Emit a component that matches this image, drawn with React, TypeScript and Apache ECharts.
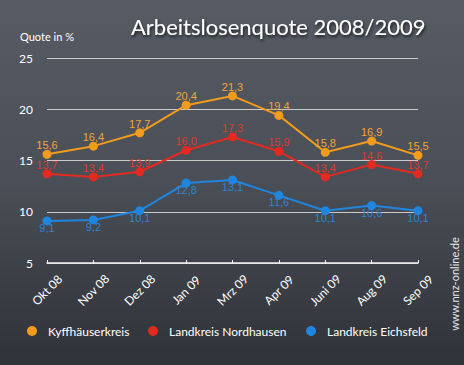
import React, { useEffect, useRef } from "react";
import * as echarts from "echarts";

const months = ["Okt 08", "Nov 08", "Dez 08", "Jan 09", "Mrz 09", "Apr 09", "Juni 09", "Aug 09", "Sep 09"];
const kyffhaeuser = [15.6, 16.4, 17.7, 20.4, 21.3, 19.4, 15.8, 16.9, 15.5];
const nordhausen = [13.7, 13.4, 13.9, 16.0, 17.3, 15.9, 13.4, 14.6, 13.7];
const eichsfeld = [9.1, 9.2, 10.1, 12.8, 13.1, 11.6, 10.1, 10.6, 10.1];
const seriesNames = ["Kyffhäuserkreis", "Landkreis Nordhausen", "Landkreis Eichsfeld"];
const colors = ["#f29b1d", "#e22a20", "#1f86df"];
const labelColors = ["#f0a43a", "#dc3b2e", "#2f84d4"];

const geo = "Lato, 'Noto Sans', sans-serif";
const fmt = (p: any) => Number(p.value).toFixed(1).replace(".", ",");

export default function App() {
  const ref = useRef<HTMLDivElement>(null);
  useEffect(() => {
    const chart = echarts.init(ref.current!, null, { renderer: "svg" });
    const datasets = [kyffhaeuser, nordhausen, eichsfeld];
    chart.setOption({
      animation: false,
      backgroundColor: {
        type: "linear", x: 0, y: 0, x2: 0, y2: 1,
        colorStops: [
          { offset: 0, color: "#575c64" },
          { offset: 0.5, color: "#4a4e56" },
          { offset: 1, color: "#2f3237" },
        ],
      },
      title: {
        text: "Arbeitslosenquote 2008/2009",
        left: 126,
        top: 10,
        textStyle: {
          color: "#ffffff",
          fontSize: 22,
          fontWeight: "normal",
          fontFamily: geo,
          textShadowColor: "rgba(0,0,0,0.7)",
          textShadowBlur: 3,
          textShadowOffsetX: 1,
          textShadowOffsetY: 2,
        },
      },
      graphic: [
        {
          type: "text",
          left: 20,
          top: 31,
          style: { text: "Quote in %", fill: "#ffffff", fontSize: 11, fontFamily: geo },
        },
        {
          type: "text",
          x: 454,
          y: 284,
          rotation: Math.PI / 2,
          style: {
            text: "www.nnz-online.de",
            fill: "#e6e6e6",
            fontSize: 11,
            fontFamily: geo,
            align: "center",
            verticalAlign: "middle",
          },
        },
      ],
      legend: seriesNames.map((n, i) => ({
        data: [n],
        left: [27, 148, 306][i],
        top: 325,
        padding: 0,
        icon: "circle",
        itemWidth: 10,
        itemHeight: 10,
        itemGap: 0,
        textStyle: { color: "#ffffff", fontSize: 12, fontFamily: geo, padding: [0, 0, 0, 6] },
      })),
      grid: { left: 47, right: 46, top: 58, bottom: 102 },
      xAxis: {
        type: "category",
        data: months,
        boundaryGap: false,
        axisLine: { lineStyle: { color: "#f2f2f2", width: 1.5 } },
        axisTick: { show: true, inside: true, length: 3, lineStyle: { color: "#f2f2f2" } },
        axisLabel: {
          rotate: 45,
          align: "center",
          verticalAlign: "middle",
          margin: 27,
          color: "#ffffff",
          fontSize: 12,
          fontFamily: geo,
        },
      },
      yAxis: {
        type: "value",
        min: 5,
        max: 25,
        interval: 5,
        axisLine: { show: false },
        axisTick: { show: false },
        axisLabel: { color: "#ffffff", fontSize: 12, fontFamily: geo, margin: 14 },
        splitLine: { lineStyle: { color: "#c8cacc", width: 1 } },
      },
      series: datasets.map((d, i) => ({
        name: seriesNames[i],
        type: "line",
        data: d,
        color: colors[i],
        symbol: "circle",
        symbolSize: 9,
        lineStyle: { width: 2, color: colors[i] },
        itemStyle: { color: colors[i] },
        z: 5 - i,
        label: {
          show: true,
          position: i === 2 ? "bottom" : "top",
          distance: i === 2 ? -3 : -1,
          formatter: fmt,
          color: labelColors[i],
          fontSize: 11,
          fontFamily: "'Liberation Sans', Arial, sans-serif",
        },
      })),
    });
    return () => chart.dispose();
  }, []);
  return <div ref={ref} style={{ position: "absolute", left: 0, top: 0, width: 464, height: 365 }} />;
}
